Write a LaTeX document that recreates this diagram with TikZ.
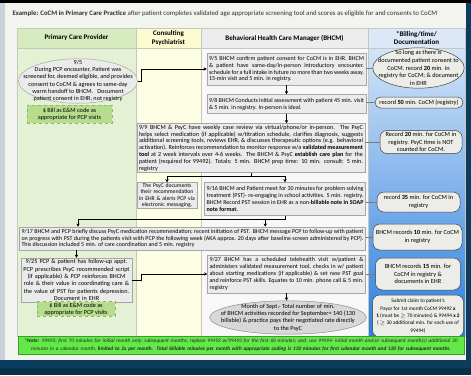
\documentclass[tikz,border=0pt]{standalone}
\usepackage{fontspec}
\setmainfont{Carlito}
\usetikzlibrary{positioning,calc,shapes.geometric,arrows.meta}
\tikzset{>=stealth}
\hyphenpenalty=10000
\exhyphenpenalty=10000
\tolerance=9999
\definecolor{pcphead}{HTML}{D6EBBF}
\definecolor{pcpbody}{HTML}{E4F1D4}
\definecolor{psyhead}{HTML}{FCFAD0}
\definecolor{psybody}{HTML}{FDFDE3}
\definecolor{bhcmhead}{HTML}{EDEDED}
\definecolor{bhcmbody}{HTML}{F8F8F8}
\definecolor{billhead}{HTML}{DCE8F8}
\definecolor{billtop}{HTML}{D3E4F8}
\definecolor{billbot}{HTML}{2A7EDF}
\definecolor{boxfill}{HTML}{EBEBEB}
\definecolor{boxline}{HTML}{A6A6A6}
\definecolor{billfill}{HTML}{ECECE8}
\definecolor{billline}{HTML}{404040}
\definecolor{cashfill}{HTML}{B5DD8D}
\definecolor{cashline}{HTML}{8DBB5E}
\definecolor{notefill}{HTML}{62E847}
\definecolor{noteline}{HTML}{3C9C2C}
\definecolor{panel}{HTML}{F2F4EE}
\definecolor{navy}{HTML}{0C3D5F}
\definecolor{leftstrip}{HTML}{C9D1D9}
\definecolor{gridline}{HTML}{C4C8BE}
\definecolor{linkgrey}{HTML}{7A7A7A}
\definecolor{titlegrey}{HTML}{303030}
\newcommand*{\titletxt}{\fontsize{6.8}{8}\selectfont}
\newcommand*{\hdtxt}{\fontsize{7}{8.2}\selectfont\bfseries}
\newcommand*{\steptxt}{\fontsize{6}{6.9}\selectfont}
\newcommand*{\reviewtxt}{\fontsize{6.15}{6.8}\selectfont}
\newcommand*{\psyctxt}{\fontsize{5.7}{6.3}\selectfont}
\newcommand*{\pcptxt}{\fontsize{6.2}{7.3}\selectfont}
\newcommand*{\billtxt}{\fontsize{6.3}{7.8}\selectfont}
\newcommand*{\claimtxt}{\fontsize{5.3}{7.3}\selectfont}
\newcommand*{\notetxt}{\fontsize{5.3}{8}\selectfont\itshape}

\begin{document}
\begin{tikzpicture}[x=1pt,y=-1pt,
  stepbox/.style={draw=boxline,fill=boxfill,line width=0.5pt,inner xsep=2pt,inner ysep=1pt,align=justify,font=\steptxt},
  cashbox/.style={draw=cashline,dashed,fill=cashfill,line width=0.5pt,align=center,font=\pcptxt,inner sep=1pt},
  oval/.style={ellipse,draw=boxline,fill=boxfill,line width=0.5pt,align=center},
  billnote/.style={draw=billline,fill=billfill,line width=0.5pt,rounded corners=7pt,align=center,font=\billtxt,inner sep=1pt},
  header/.style={font=\hdtxt,align=center,minimum height=20pt,inner sep=0pt,draw=gridline,line width=0.4pt},
  trunk/.style={draw=black,line width=0.9pt},
  flow/.style={trunk,-{Stealth[length=3.2pt,width=3.4pt]}},
  link/.style={draw=linkgrey,line width=0.45pt}]
\useasboundingbox (0,0) rectangle (471,375);

% Frame and panel
\fill[navy] (0,0) rectangle (471,375);
\fill[black] (0,0) rectangle (471,3);
\fill[navy!75!black] (0,368) rectangle (471,375);
\fill[leftstrip] (0,3) rectangle (5,360);
\fill[panel] (5,3) rectangle (466,360);

\node[anchor=west,font=\titletxt,text=titlegrey] (title) at (9,14)
  {\textbf{Example: CoCM in Primary Care Practice} after patient completes validated age appropriate screening tool and scores as eligible for and consents to CoCM};

% Columns
\fill[pcpbody] (17,48) rectangle (136,336);
\fill[psybody] (136,48) rectangle (201,336);
\fill[bhcmbody] (201,48) rectangle (368,336);
\shade[top color=billtop,bottom color=billbot] (368,48) rectangle (465,336);
\draw[gridline,line width=0.4pt] (17,28) rectangle (465,336);
\draw[gridline,line width=0.4pt] (136,48) -- (136,336) (201,48) -- (201,336) (368,48) -- (368,336);

\node[header,fill=pcphead,minimum width=119pt] (hdpcp) at (76.5,38) {Primary Care Provider};
\node[header,fill=psyhead,minimum width=65pt] (hdpsy) at (168.5,38) {Consulting\\Psychiatrist};
\node[header,fill=bhcmhead,minimum width=167pt] (hdbhcm) at (284.5,38) {Behavioral Health Care Manager (BHCM)};
\node[header,fill=billhead,minimum width=97pt] (hdbill) at (416.5,38) {*Billing/time/\\Documentation};

% Primary care provider
\node[oval,font=\pcptxt,inner xsep=-12.6pt,inner ysep=-5.2pt] (pcpvisit) at (78,81)
  {9/5\\During PCP encounter, Patient was\\screened for, deemed eligible, and provides\\consent to CoCM \& agrees to same-day\\warm handoff to BHCM.~~ Document\\patient consent in EHR, not registry};
\node[cashbox,minimum width=85pt,minimum height=18pt] (pcpbill) at (69.5,114)
  {\$ Bill as E\&M code as\\appropriate for PCP visits};

% Steps of the care manager
\node[stepbox,text width=155pt,minimum height=32pt] (bhcmintro) at (286.5,69)
  {9/5 BHCM confirm patient consent for CoCM is in EHR. BHCM \& patient have same-day/in-person introductory encounter. schedule for a full intake in future no more than two weeks away. 15-min visit and 5 min. in registry.};
\node[stepbox,text width=155pt,minimum height=19pt] (bhcmassess) at (286.5,104)
  {9/8 BHCM Conducts initial assessment with patient 45 min. visit \& 5 min. in registry. In-person is ideal.};
\node[stepbox,font=\reviewtxt,text width=224pt,minimum height=49pt] (review) at (251,148)
  {9/9 BHCM \& PsyC have weekly case review via virtual/phone/or in-person. The PsyC helps select medication (if applicable) w/titration schedule, clarifies diagnosis, suggests additional screening tools, reviews EHR, \& discusses therapeutic options (e.g. behavioral activation). Reinforces recommendation to monitor response w/a \textbf{validated measurement tool} at 2 week intervals over 4-6 weeks. The BHCM \& PsyC \textbf{establish care plan} for the patient (required for 99492). Totals: 5 min. BHCM prep time: 10 min. consult: 5 min. registry};
\node[stepbox,align=center,font=\psyctxt,text width=56pt,minimum height=25pt] (psycdoc) at (167,195.5)
  {The PsyC documents\\their recommendation\\in EHR \& alerts PCP via\\electronic messaging.};
\node[stepbox,text width=157pt,minimum height=33pt] (pst) at (285,199)
  {9/16 BHCM and Patient meet for 30 minutes for problem solving treatment (PST)- re-engaging in school activities. 5 min. registry.\ \ BHCM Record PST session in EHR as a non-\textbf{billable note in SOAP note format.}};
\node[stepbox,text width=342pt,minimum height=23pt] (coord) at (192.5,238.5)
  {9/17 BHCM and PCP briefly discuss PsyC medication recommendation; recent initiation of PST.\ \ BHCM message PCP to follow-up with patient on progress with PST during the patients visit with PCP the following week (AKA approx. 20 days after baseline screen administered by PCP). This discussion included 5 min. of care coordination and 5 min. registry};
\node[stepbox,align=center,font=\pcptxt,text width=107pt,minimum height=44pt] (followup) at (76.5,280)
  {9/25 PCP \& patient has follow-up appt.\\PCP prescribes PsyC recommended script\\(if applicable) \& PCP reinforces BHCM\\role \& their value in coordinating care \&\\the value of PST for patients depression.\\Document in EHR};
\node[cashbox,minimum width=78pt,minimum height=14pt] (pcpbill2) at (76,309)
  {\$ Bill as E\&M code as\\appropriate for PCP visits};
\node[stepbox,text width=154pt,minimum height=38pt] (telehealth) at (286.5,274)
  {9/27 BHCM has a scheduled telehealth visit w/patient \& administers validated measurement tool, checks in w/ patient about starting medications (if applicable) \& set new PST goal and reinforce PST skills. Equates to 10 min. phone call \& 5 min. registry};
\node[oval,fill=boxfill!92!black,draw=boxline!85!black,font=\pcptxt,inner xsep=-11.8pt,inner ysep=-1.8pt] (monthsum) at (288,317.5)
  {Month of Sept.- Total number of min.\\of BHCM activities recorded for September= 140 (130\\billable) \& practice pays their negotiated rate directly\\to the PsyC};

% Billing column
\node[oval,draw=billline,fill=billfill,font=\billtxt,inner xsep=-8pt,inner ysep=-3.5pt] (billA) at (418.5,68)
  {So long as there is\\documented patient consent to\\CoCM. record \textbf{20} min. in\\registry for CoCM; \& document\\in EHR};
\node[billnote,rounded corners=5.5pt,minimum width=88pt,minimum height=11pt] (billB) at (419,102.5)
  {record \textbf{50} min. CoCM (registry)};
\node[billnote,minimum width=82pt,minimum height=23pt] (billC) at (421,142)
  {Record \textbf{20} min. for CoCM in\\registry. PsyC time is NOT\\counted for CoCM.};
\node[billnote,minimum width=83pt,minimum height=20pt] (billD) at (418.5,202)
  {record \textbf{35} min. for CoCM in\\registry};
\node[billnote,minimum width=89pt,minimum height=26pt] (billE) at (417.5,237)
  {BHCM records \textbf{10} min. for CoCM\\in registry};
\node[billnote,minimum width=85pt,minimum height=32pt] (billF) at (418,274)
  {BHCM records \textbf{15} min. for\\CoCM in registry \&\\documents in EHR};
\node[billnote,font=\claimtxt,minimum width=91pt,minimum height=42pt] (billG) at (418,316)
  {Submit claim to patient's\\Payor for 1st month CoCM 99492 \textbf{x}\\\textbf{1} (must be $\geq$ 70 minutes) \& 99494 \textbf{x 2}\\( $\geq$ 30 additional min. for each use of\\99494)};

% Note
\node[draw=noteline,fill=notefill,line width=0.5pt,font=\notetxt,text=black!85,align=center,text width=444pt,minimum height=18pt,inner sep=1pt] (note) at (241,345)
  {\textbf{*Note:} 99492; first 70 minutes for initial month only; subsequent months, replace 99492 w/99493 for the first 60 minutes; and, use 99494- initial month and/or subsequent month(s) additional 30\\minutes in a calendar month, \textbf{limited to 2x per month.\ \ Total billable minutes per month with appropriate coding is 130 minutes for first calendar month and 120 for subsequent months.}};

% Flow between steps
\draw[flow] (pcpvisit.east) -- ++(4,0) |- (bhcmintro.west);
\draw[flow] (bhcmintro) -- (bhcmassess);
\draw[flow] (bhcmassess.south) -- (bhcmassess.south |- review.north);
\draw[trunk] (review.south) -- ++(0,4) coordinate (rvsplit);
\draw[flow] (rvsplit) -| (psycdoc.north);
\draw[flow] (rvsplit) -| (pst.north);
\draw[trunk] (pst.south) -- ++(0,4) coordinate (pstsplit);
\draw[flow] (pstsplit) -| (coord.north -| pcpvisit.south);
\draw[flow] (pstsplit) -| ($(coord.north west)!0.71!(coord.north east)$);
\draw[flow] (coord.south -| followup.north) -- (followup.north);
\draw[flow] (followup.east) -- ++(9,0) |- (telehealth.west);
\draw[flow] (telehealth.south) -- (telehealth.south |- monthsum.north);

% Links to billing notes
\draw[link] (bhcmintro.east |- billA.west) -- (billA.west);
\draw[link] (bhcmassess.east |- billB.west) -- (billB.west);
\draw[link] (review.east |- billC.west) -- (billC.west);
\draw[link] (pst.east |- billD.west) -- (billD.west);
\draw[link] (coord.east |- billE.west) -- (billE.west);
\draw[link] (telehealth.east |- billF.west) -- (billF.west);

\end{tikzpicture}
\end{document}
